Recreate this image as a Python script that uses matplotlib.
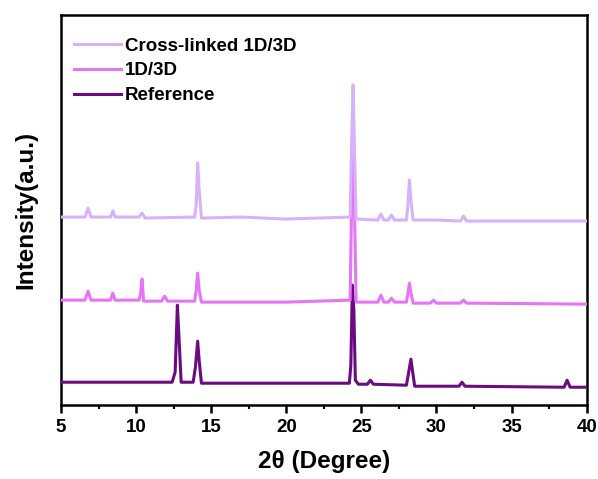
import matplotlib
matplotlib.use('Agg')
import matplotlib.pyplot as plt
import matplotlib.ticker as ticker

plt.rcParams['font.family'] = ['Liberation Sans', 'DejaVu Sans']
plt.rcParams['font.weight'] = 'bold'

# XRD patterns (2theta in degree, intensity in a.u.)
cl_x = [5, 6.6, 6.8, 7.0, 8.3, 8.45, 8.6, 10.2, 10.4, 10.6, 13.9, 14.0, 14.1, 14.2, 14.35,
        17.0, 20.0, 24.25, 24.35, 24.45, 24.55, 24.65, 26.1, 26.3, 26.5, 26.8, 27.0, 27.2,
        28.0, 28.1, 28.2, 28.3, 28.45, 30.0, 31.6, 31.8, 32.0, 40]
cl_y = [188, 188, 197, 188, 188, 194, 188, 188, 192, 187, 188, 200, 242, 215, 187,
        188, 186, 188, 260, 320, 250, 186, 185, 191, 185, 185, 190, 185,
        185, 200, 225, 205, 185, 185, 184, 189, 184, 184]

mid_x = [5, 6.6, 6.8, 7.0, 8.3, 8.45, 8.6, 10.2, 10.3, 10.4, 10.5, 11.7, 11.9, 12.1,
         13.9, 14.0, 14.1, 14.2, 14.35, 20.0, 24.25, 24.35, 24.45, 24.55, 24.65,
         26.1, 26.3, 26.5, 26.8, 27.0, 27.2, 28.0, 28.1, 28.2, 28.3, 28.45,
         29.6, 29.8, 30.0, 31.6, 31.8, 32.0, 40]
mid_y = [105, 105, 114, 105, 105, 112, 105, 105, 112, 126, 104, 104, 109, 104,
         104, 115, 132, 115, 103, 103, 105, 200, 250, 190, 103, 103, 110, 103, 103, 107, 103,
         103, 112, 122, 112, 102, 102, 105, 102, 102, 105, 102, 101]

ref_x = [5, 12.4, 12.6, 12.75, 12.85, 13.0, 13.8, 13.95, 14.1, 14.2, 14.35, 20.0,
         24.2, 24.3, 24.4, 24.5, 24.6, 24.8, 25.4, 25.6, 25.8, 28.0, 28.15, 28.3, 28.4, 28.55,
         31.5, 31.7, 31.9, 38.5, 38.7, 38.9, 40]
ref_y = [23, 23, 33, 100, 70, 23, 23, 38, 64, 45, 22, 22,
         22, 40, 120, 95, 25, 21, 21, 25, 21, 20, 33, 46, 35, 19,
         19, 23, 19, 18, 25, 18, 18]

labels = ['Cross-linked 1D/3D', '1D/3D', 'Reference']
colors = ['#d8b2f8', '#e574f6', '#6a0c80']

fig = plt.figure(figsize=(5.98, 4.79), dpi=100)
ax = fig.add_axes([0.102, 0.154, 0.879, 0.815])

ax.plot(ref_x, ref_y, '-', color=colors[2], lw=2.2, label=labels[2], zorder=3)
ax.plot(mid_x, mid_y, '-', color=colors[1], lw=2.2, label=labels[1], zorder=4)
ax.plot(cl_x, cl_y, '-', color=colors[0], lw=2.2, label=labels[0], zorder=5)

ax.set_xlim(5, 40)
ax.set_ylim(0, 390)
ax.xaxis.set_major_locator(ticker.MultipleLocator(5))
ax.xaxis.set_minor_locator(ticker.MultipleLocator(2.5))
ax.tick_params(axis='x', which='major', direction='out', length=6, width=1.8, labelsize=13.5, pad=4)
ax.tick_params(axis='x', which='minor', direction='out', length=3, width=1.5)
ax.set_yticks([])
for s in ax.spines.values():
    s.set_linewidth(1.8)

ax.set_xlabel('2\u03b8 (Degree)', fontsize=17.5, fontweight='bold', labelpad=10)
ax.set_ylabel('Intensity(a.u.)', fontsize=17.5, fontweight='bold', labelpad=17)

h, l = ax.get_legend_handles_labels()
ax.legend(h[::-1], l[::-1], loc='upper left', frameon=False, fontsize=13.5,
          handlelength=2.5, handletextpad=0.2, labelspacing=0.4,
          borderaxespad=0.3, bbox_to_anchor=(0.0, 0.975))

fig.savefig('out.png', dpi=100)
